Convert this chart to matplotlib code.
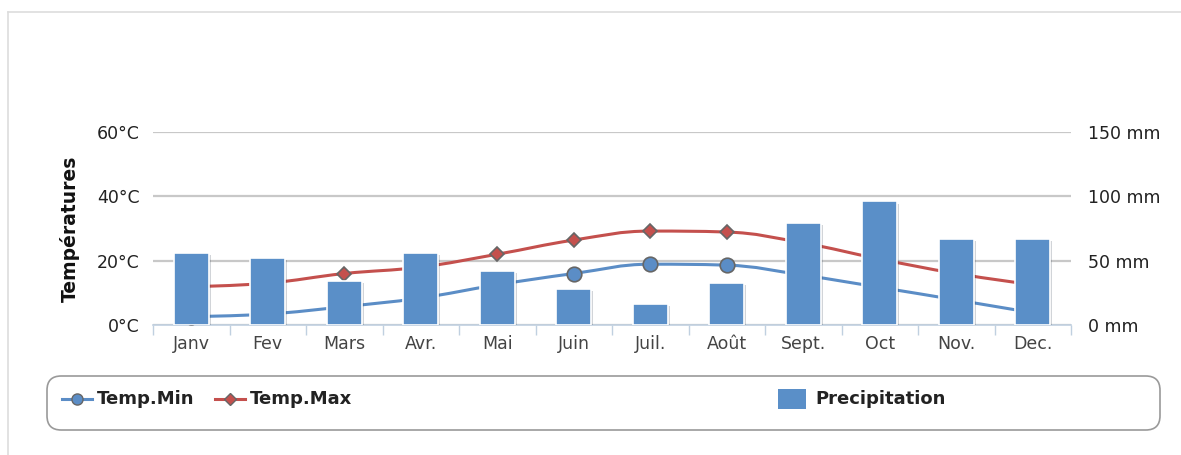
import numpy as np
import matplotlib
matplotlib.use("Agg")
import matplotlib.pyplot as plt
import matplotlib.patheffects as pe
from matplotlib.path import Path
from matplotlib.patches import PathPatch, FancyBboxPatch, Rectangle
from matplotlib.lines import Line2D

plt.rcParams['font.family'] = ['DejaVu Sans']

# data
months = ['Janv', 'Fev', 'Mars', 'Avr.', 'Mai', 'Juin', 'Juil.', 'Août',
          'Sept.', 'Oct', 'Nov.', 'Dec.']
temp_min = [2.6, 3.4, 5.7, 8.4, 12.5, 16.0, 18.9, 18.6, 15.5, 11.7, 7.8, 3.8]
temp_max = [11.9, 13.0, 16.0, 18.0, 22.0, 26.4, 29.2, 28.9, 25.5, 20.5, 16.0, 12.5]
precip = [56, 52, 34, 56, 42, 28, 16, 33, 79, 96, 67, 67]

temp_ticks = [0, 20, 40, 60]
mm_ticks = [0, 50, 100, 150]

c_min = '#5b8dc6'
c_max = '#c4504d'
c_bar = '#5a8fc8'


def spline_path(xs, ys):
    # highcharts style spline: control points from neighbours
    n = len(xs)
    left = [(xs[0], ys[0])] * n
    right = [(xs[0], ys[0])] * n
    for i in range(n):
        x, y = xs[i], ys[i]
        if i == 0 or i == n - 1:
            left[i] = (x, y)
            right[i] = (x, y)
            continue
        lx, ly = xs[i - 1], ys[i - 1]
        nx, ny = xs[i + 1], ys[i + 1]
        lcx = (1.5 * x + lx) / 2.5
        lcy = (1.5 * y + ly) / 2.5
        rcx = (1.5 * x + nx) / 2.5
        rcy = (1.5 * y + ny) / 2.5
        corr = (rcy - lcy) * (rcx - x) / (rcx - lcx) + y - rcy
        lcy += corr
        rcy += corr
        if lcy > ly and lcy > y:
            lcy = max(ly, y)
            rcy = 2 * y - lcy
        elif lcy < ly and lcy < y:
            lcy = min(ly, y)
            rcy = 2 * y - lcy
        if rcy > ny and rcy > y:
            rcy = max(ny, y)
            lcy = 2 * y - rcy
        elif rcy < ny and rcy < y:
            rcy = min(ny, y)
            lcy = 2 * y - rcy
        left[i] = (lcx, lcy)
        right[i] = (rcx, rcy)
    verts = [(xs[0], ys[0])]
    codes = [Path.MOVETO]
    for i in range(1, n):
        verts += [right[i - 1], left[i], (xs[i], ys[i])]
        codes += [Path.CURVE4] * 3
    return Path(verts, codes)


fig = plt.figure(figsize=(11.81, 4.55), dpi=100)
ax = fig.add_axes([153 / 1181, 130 / 455, 918 / 1181, 193 / 455])
ax2 = ax.twinx()

x = np.arange(len(months))

# grid
for t in temp_ticks:
    ax.axhline(t, color='#c8c8c8', lw=1.6, zorder=0)

for vals, col, mk, ms in [(temp_min, c_min, 'o', 10.5), (temp_max, c_max, 'D', 7.5)]:
    patch = PathPatch(spline_path(list(x), vals), fill=False, edgecolor=col, lw=2.2,
                      zorder=2, capstyle='round')
    ax.add_patch(patch)
    ax.plot(x, vals, ls='none', marker=mk, ms=ms, mfc=col, mec='#666666', mew=1.2, zorder=3)

ax.set_xlim(-0.5, 11.5)
ax.set_ylim(0, 60)
ax2.set_ylim(0, 150)

bars = ax2.bar(x, precip, width=0.46, color=c_bar, edgecolor='white', lw=1.2, zorder=2)
for b in bars:
    b.set_path_effects([pe.SimplePatchShadow(offset=(1.5, -1.5), alpha=0.2), pe.Normal()])

ax.set_yticks(temp_ticks)
ax.set_yticklabels(['%d°C' % t for t in temp_ticks])
ax2.set_yticks(mm_ticks)
ax2.set_yticklabels(['%d mm' % t for t in mm_ticks])
ax.set_xticks(x)
ax.set_xticklabels(months)
ax.set_xticks(np.arange(len(months) + 1) - 0.5, minor=True)

ax.tick_params(axis='y', length=0, pad=9.5, labelsize=12.5, labelcolor='#222222')
ax2.tick_params(axis='y', length=0, pad=12, labelsize=12.5, labelcolor='#222222')
ax.tick_params(axis='x', which='major', length=0, pad=7, labelsize=12.5, labelcolor='#444444')
ax.tick_params(axis='x', which='minor', length=7, width=1, color='#c0d0e0')

for a in (ax, ax2):
    for s in ['top', 'left', 'right']:
        a.spines[s].set_visible(False)
    a.patch.set_visible(False)
ax.spines['bottom'].set_color('#c0d0e0')
ax.spines['bottom'].set_linewidth(1.2)
ax2.spines['bottom'].set_visible(False)

ax.set_ylabel('Températures', fontsize=13.5, fontweight='bold', color='#111111', labelpad=12)

# outer frame
fig.add_artist(Line2D([8 / 1181, 8 / 1181], [0, 1 - 12 / 455], color='#dddddd', lw=1.2))
fig.add_artist(Line2D([8 / 1181, 1], [1 - 12 / 455, 1 - 12 / 455], color='#dddddd', lw=1.2))

# legend box
fig.add_artist(FancyBboxPatch((47 / 1181, 1 - 430 / 455), 1113 / 1181, 54 / 455,
                              boxstyle='round,pad=0,rounding_size=0.012',
                              fc='white', ec='#9a9a9a', lw=1.2, mutation_aspect=2.6))
ly = 1 - 399 / 455
for x0, col, mk, ms, label in [(62, c_min, 'o', 8, 'Temp.Min'), (215, c_max, 'D', 6.5, 'Temp.Max')]:
    fig.add_artist(Line2D([x0 / 1181, (x0 + 30) / 1181], [ly, ly], color=col, lw=2.2))
    fig.add_artist(Line2D([(x0 + 15) / 1181], [ly], marker=mk, ms=ms, mfc=col, mec='#666666', mew=1))
    fig.text((x0 + 35) / 1181, ly, label, fontsize=13, fontweight='bold', color='#222222', va='center')
fig.add_artist(Rectangle((778 / 1181, ly - 10 / 455), 28 / 1181, 20 / 455, fc=c_bar, ec='none'))
fig.text(815 / 1181, ly, 'Precipitation', fontsize=13, fontweight='bold', color='#222222', va='center')

fig.savefig('out.png', dpi=100)
